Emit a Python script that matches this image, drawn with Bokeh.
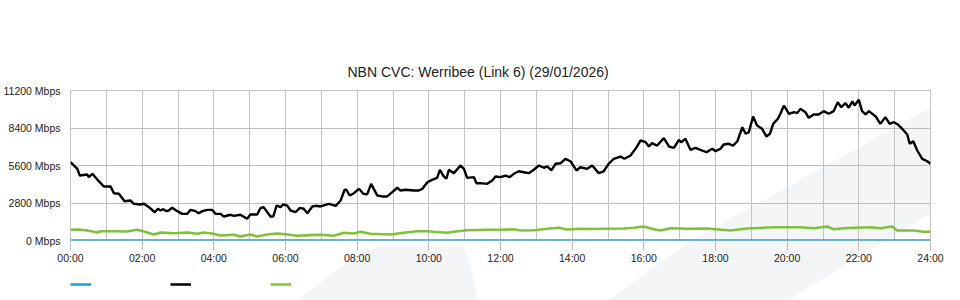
from bokeh.plotting import figure
from bokeh.layouts import column
from bokeh.models import (Range1d, FixedTicker, PrintfTickFormatter, Legend, LegendItem)
from bokeh.embed import file_html
from bokeh.resources import INLINE

# ---------------- data ----------------
title_text = "NBN CVC: Werribee (Link 6) (29/01/2026)"

black_hours = [0.00, 0.19, 0.26, 0.47, 0.51, 0.61, 0.79, 0.93, 1.12, 1.21, 1.35, 1.51, 1.67, 1.77,
               1.95, 2.05, 2.19, 2.35, 2.44, 2.51, 2.59, 2.68, 2.74, 2.84, 2.98, 3.12, 3.26, 3.35,
               3.49, 3.58, 3.68, 3.82, 3.95, 4.05, 4.19, 4.28, 4.47, 4.56, 4.74, 4.93, 5.02, 5.21,
               5.30, 5.39, 5.58, 5.66, 5.75, 5.86, 5.94, 6.05, 6.14, 6.28, 6.40, 6.51, 6.61, 6.75,
               6.84, 6.98, 7.21, 7.40, 7.54, 7.65, 7.70, 7.79, 7.91, 8.05, 8.17, 8.28, 8.39, 8.56,
               8.70, 8.84, 8.98, 9.12, 9.21, 9.35, 9.58, 9.72, 9.82, 9.96, 10.09, 10.23, 10.31,
               10.40, 10.49, 10.56, 10.70, 10.88, 10.98, 11.07, 11.26, 11.33, 11.44, 11.63, 11.77,
               11.86, 12.00, 12.14, 12.26, 12.37, 12.51, 12.65, 12.79, 12.93, 13.07, 13.21, 13.30,
               13.42, 13.54, 13.68, 13.81, 13.95, 14.12, 14.23, 14.42, 14.56, 14.74, 14.88, 15.02,
               15.16, 15.35, 15.46, 15.63, 15.80, 15.91, 16.05, 16.14, 16.23, 16.37, 16.56, 16.70,
               16.84, 16.98, 17.04, 17.16, 17.30, 17.44, 17.58, 17.75, 17.91, 18.00, 18.14, 18.23,
               18.37, 18.49, 18.61, 18.75, 18.84, 18.93, 19.05, 19.16, 19.30, 19.42, 19.52, 19.61,
               19.74, 19.81, 19.91, 20.05, 20.19, 20.28, 20.37, 20.51, 20.60, 20.74, 20.88, 21.02,
               21.16, 21.30, 21.41, 21.51, 21.63, 21.72, 21.82, 21.88, 22.00, 22.09, 22.19, 22.28,
               22.47, 22.60, 22.74, 22.86, 22.98, 23.09, 23.21, 23.35, 23.42, 23.52, 23.63, 23.77,
               23.91, 24.00]
black_mbps = [5850, 5350, 4850, 4930, 4730, 4980, 4430, 4030, 4030, 3530, 3490, 2930, 2990, 2740,
              2690, 2740, 2490, 2110, 2370, 2240, 2340, 2190, 2240, 2440, 2190, 1990, 1990, 2290,
              2190, 2040, 2190, 2290, 2290, 1990, 1990, 1790, 1920, 1840, 1920, 1620, 1940, 1940,
              2410, 2490, 1790, 1790, 2610, 2490, 2690, 2610, 2240, 2110, 2440, 2370, 2040, 2540,
              2590, 2540, 2740, 2590, 2990, 3790, 3790, 3360, 3530, 3860, 3490, 3440, 4230, 3360,
              3290, 3290, 3610, 3940, 3730, 3790, 3730, 3730, 3860, 4350, 4530, 4680, 5280,
              4850, 4610, 5280, 5030, 5600, 5350, 4680, 4730, 4280, 4280, 4230, 4480,
              4780, 4730, 4850, 4730, 4980, 5170, 5100, 5030, 5280, 5600, 5430, 5530,
              5230, 5730, 5770, 6100, 5920, 5230, 5470, 5350, 5600, 5030, 5170, 5730,
              6100, 6270, 6100, 6350, 6970, 7470, 7340, 7020, 7270, 7090, 7640, 7020,
              6920, 7520, 7340, 7590, 6770, 6920, 6770, 6590, 6850, 6670, 6850, 7170,
              7220, 7090, 7410, 8460, 7970, 8090, 9260, 8590, 8340, 7770, 7970, 8710,
              9090, 9460, 10080, 9460, 9580, 9510, 9830, 9580, 9160, 9410, 9410, 9660,
              9460, 9660, 10330, 9950, 10250, 9910, 10400, 10080, 10510, 9660, 9410, 9660,
              9260, 8710, 9210, 8710, 8830, 8660, 8340, 7920, 7220, 7410, 6720, 6100,
              5920, 5730]

green_hours = [0.00, 0.23, 0.47, 0.75, 0.84, 1.20, 1.58, 1.86, 2.05, 2.32, 2.51, 2.88, 3.26, 3.54,
               3.72, 3.91, 4.19, 4.56, 4.74, 5.02, 5.21, 5.49, 5.77, 6.05, 6.33, 6.70, 6.98, 7.35,
               7.63, 7.91, 8.09, 8.37, 8.93, 9.30, 9.68, 9.95, 10.14, 10.51, 10.70, 11.07, 11.63,
               12.00, 12.37, 12.56, 12.93, 13.30, 13.63, 13.86, 14.23, 14.60, 14.98, 15.44, 15.72,
               16.00, 16.28, 16.47, 16.74, 17.21, 17.77, 18.42, 18.88, 19.63, 20.37, 20.74, 21.12,
               21.30, 21.58, 21.86, 22.33, 22.60, 22.93, 23.07, 23.35, 23.53, 23.81, 24.00]
green_mbps = [800, 820, 750, 600, 690, 690, 670, 800, 670, 450, 600, 545, 600, 500,
              600, 545, 370, 425, 300, 450, 300, 450, 520, 450, 350, 400, 425, 350,
              575, 520, 650, 500, 450, 575, 690, 690, 650, 575, 650, 770, 800,
              800, 845, 750, 770, 875, 950, 820, 875, 860, 875, 895, 950,
              1045, 845, 750, 920, 875, 895, 750, 895, 990, 990, 920, 1045,
              845, 920, 950, 990, 920, 1045, 750, 750, 750, 650, 650]

blue_hours = [0, 24]
blue_mbps = [0, 0]

x_ticks = [0, 2, 4, 6, 8, 10, 12, 14, 16, 18, 20, 22, 24]
x_tick_labels = ["00:00", "02:00", "04:00", "06:00", "08:00", "10:00", "12:00",
                 "14:00", "16:00", "18:00", "20:00", "22:00", "24:00"]
grid_hours = list(range(25))
y_ticks = [0, 2800, 5600, 8400, 11200]

FONT = "Liberation Sans"
BLUE, BLACK, GREEN = "#19a1e0", "black", "#80c13a"

# ---------------- background layer: page decoration + legend swatches ----------------
bg = figure(width=960, height=300, output_backend="svg", toolbar_location=None,
            x_range=Range1d(0, 960), y_range=Range1d(300, 0), min_border=0,
            x_axis_type=None, y_axis_type=None)
bg.grid.visible = False
bg.outline_line_color = None
bg.background_fill_color = "white"
bg.border_fill_color = "white"
# faint decorative swoosh behind the chart (page pixels)
bg.patch([600, 693, 960, 960, 800], [300, 240, 107, 213, 300],
         fill_color="#f4f5f7", line_color=None)
bg.patch([253, 275, 300, 325, 347, 437, 445, 452, 453],
         [300, 285, 268, 254, 245, 245, 260, 285, 300],
         fill_color="#f4f5f7", line_color=None)
# legend swatches: style-only proxies placed off-canvas
k_blue = bg.line(x=[-20, -10], y=[-20, -20], line_color=BLUE, line_width=2.5)
k_black = bg.line(x=[-20, -10], y=[-20, -20], line_color=BLACK, line_width=2.5)
k_green = bg.line(x=[-20, -10], y=[-20, -20], line_color=GREEN, line_width=2.5)
legend = Legend(items=[LegendItem(label=" ", renderers=[k_blue]),
                       LegendItem(label=" ", renderers=[k_black]),
                       LegendItem(label=" ", renderers=[k_green])],
                orientation="horizontal", location=(0, 11),
                glyph_width=21, glyph_height=10, label_width=79, label_height=10,
                label_standoff=0, spacing=0, padding=0, margin=0,
                border_line_color=None, background_fill_alpha=0,
                label_text_font_size="1px")
bg.add_layout(legend, "center")

# ---------------- main chart ----------------
p = figure(width=960, height=300, output_backend="svg", toolbar_location=None,
           x_range=Range1d(0, 24), y_range=Range1d(0, 11200),
           min_border_left=70, min_border_right=30, min_border_top=90,
           min_border_bottom=60)
p.outline_line_color = "#c4c4c4"
p.background_fill_color = None
p.border_fill_color = None
p.styles = {"margin-top": "-300px"}

p.title.text = title_text
p.title.align = "left"
p.title.offset = 277
p.title.text_font = FONT
p.title.text_font_size = "14px"
p.title.text_font_style = "normal"
p.title.text_color = "#222222"
p.title.standoff = 21

xa = p.xaxis[0]
xa.ticker = FixedTicker(ticks=x_ticks)
xa.major_label_overrides = {t: lab for t, lab in zip(x_ticks, x_tick_labels)}
xa.axis_line_color = None
xa.major_tick_in = 0
xa.major_tick_out = 10
xa.major_tick_line_color = "#bdbdbd"
xa.minor_tick_line_color = None
xa.major_label_standoff = 1
xa.major_label_text_font = FONT
xa.major_label_text_font_size = "10.5px"
xa.major_label_text_color = "#222222"

ya = p.yaxis[0]
ya.ticker = FixedTicker(ticks=y_ticks)
ya.formatter = PrintfTickFormatter(format="%d Mbps")
ya.axis_line_color = None
ya.major_tick_in = 0
ya.major_tick_out = 0
ya.minor_tick_line_color = None
ya.major_label_standoff = 10
ya.major_label_text_font = FONT
ya.major_label_text_font_size = "10.5px"
ya.major_label_text_color = "#222222"

p.xgrid.ticker = FixedTicker(ticks=grid_hours)
p.xgrid.grid_line_color = "#c4c4c4"
p.xgrid.grid_line_width = 1
p.ygrid.ticker = FixedTicker(ticks=y_ticks)
p.ygrid.grid_line_color = "#bdbdbd"
p.ygrid.grid_line_width = 1

p.line(green_hours, green_mbps, line_color=GREEN, line_width=2.6)
p.line(black_hours, black_mbps, line_color=BLACK, line_width=2.4)
p.line(blue_hours, blue_mbps, line_color=BLUE, line_width=2.6)

layout = column(bg, p, spacing=0)
open("out.html", "w").write(file_html(layout, INLINE))
